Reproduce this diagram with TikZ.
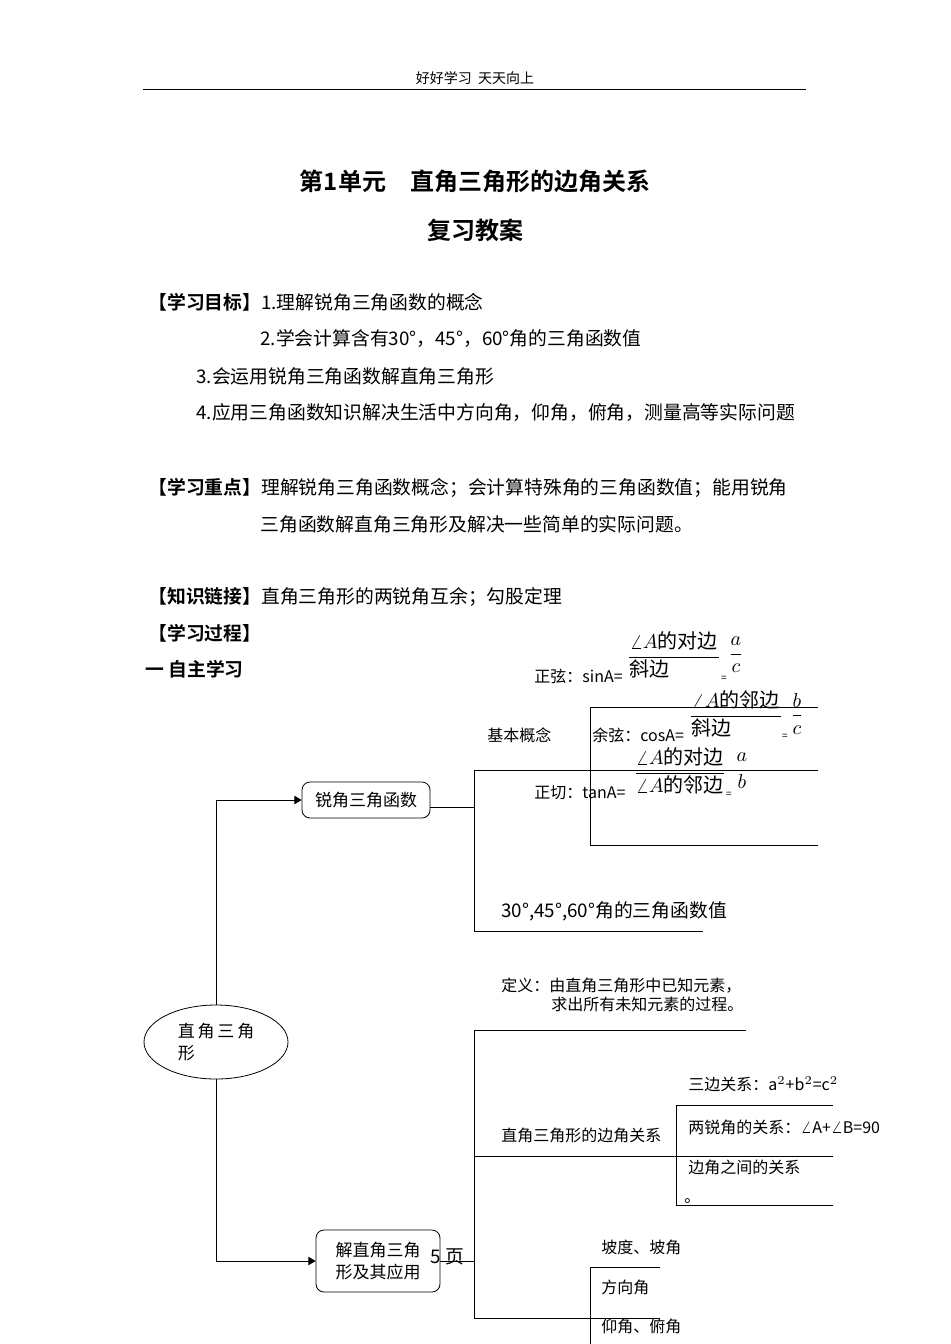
\documentclass[tikz,border=0pt]{standalone}
\usepackage{amsmath}
\usepackage{fontspec}
\setmainfont{Noto Sans CJK SC}[BoldFont={Noto Sans CJK SC Bold}]
\usepackage{tikz}
\usetikzlibrary{arrows.meta,
                positioning,
                shapes.geometric}
\tikzset{
        txt/.style={anchor=west, inner sep=0pt, font=\fontsize{9.4}{10}\selectfont},
        sml/.style={anchor=west, inner sep=0pt, font=\fontsize{8}{10}\selectfont},
        head/.style={inner sep=0pt, font=\fontsize{12}{14}\selectfont\bfseries},
        frm/.style={inner sep=0pt, font=\fontsize{10}{12}\selectfont},
        box/.style={draw, rounded corners=4pt, align=center, font=\fontsize{8.5}{11}\selectfont},
        myarrow/.style={-Triangle, line width=0.4pt},
        br/.style={line width=0.5pt},
}
\begin{document}
\begin{tikzpicture}[x=0.5pt, y=-0.5pt]
    \useasboundingbox (0,0) rectangle (950,1344);

    % header
    \node[inner sep=0pt, font=\fontsize{7}{8}\selectfont] (hdr) at (475,78) {好好学习\ \ 天天向上};
    \draw (143,89) -- (806,89);
    \node[head] (title1) at (475,181) {第1单元\quad 直角三角形的边角关系};
    \node[head] (title2) at (475,230) {复习教案};

    % goals
    \node[txt] (goal1) at (148,302) {\textbf{【学习目标】}1.理解锐角三角函数的概念};
    \node[txt] (goal2) at (260,339) {2.学会计算含有30°，45°，60°角的三角函数值};
    \node[txt] (goal3) at (196,376) {3.会运用锐角三角函数解直角三角形};
    \node[txt] (goal4) at (196,413) {4.应用三角函数知识解决生活中方向角，仰角，俯角，测量高等实际问题};
    \node[txt] (key1) at (148,488) {\textbf{【学习重点】}理解锐角三角函数概念；会计算特殊角的三角函数值；能用锐角};
    \node[txt] (key2) at (260,524) {三角函数解直角三角形及解决一些简单的实际问题。};
    \node[txt] (link) at (148,597) {\textbf{【知识链接】}直角三角形的两锐角互余；勾股定理};
    \node[txt] (proc) at (148,633) {\textbf{【学习过程】}};
    \node[txt] (self) at (145,669) {\textbf{一\ 自主学习}};

    % main nodes
    \node[draw, ellipse, minimum width=72pt, minimum height=37pt, font=\fontsize{8.5}{11}\selectfont,
          align=left] (tri) at (216,1042) {直\,角\,三\,角\\形};
    \node[box, minimum width=64pt, minimum height=18pt] (func) at (366,800) {锐角三角函数};
    \node[box, minimum width=62pt, minimum height=31pt] (solve) at (378,1261) {解直角三角\\形及其应用};

    \draw[myarrow] (tri.north) |- (func.west);
    \draw[myarrow] (tri.south) |- (solve.west);

    % upper bracket
    \coordinate (u0) at (474,807);
    \draw[br] (func.east |- u0) -- (u0);
    \draw[br] (474,770) -- (474,931) -- (703,931);
    \draw[br] (474,770) -- (818,770);
    \draw[br] (818,707) -- (590,707) -- (590,845) -- (818,845);
    \node[sml] (basic) at (487,735) {基本概念};
    \node[sml] (sin) at (534,676) {正弦：sinA=};
    \node[sml] (cos) at (592,735) {余弦：cosA=};
    \node[sml] (tan) at (534,793) {正切：tanA=};
    \node[frm] (sinf) at (674,655) {$\dfrac{\angle A\text{的对边}}{\text{斜边}\hspace{2.5em}}$};
    \node[frm] (sinv) at (736,655) {$\dfrac{a}{c}$};
    \node[frm] (cosf) at (736,714) {$\dfrac{\angle A\text{的邻边}}{\text{斜边}\hspace{2.5em}}$};
    \node[frm] (cosv) at (797,714) {$\dfrac{b}{c}$};
    \node[frm] (tanf) at (680,771) {$\dfrac{\angle A\text{的对边}}{\angle A\text{的邻边}}$};
    \node[frm] (tanv) at (742,771) {$\dfrac{a}{b}$};
    \node[inner sep=0pt, font=\tiny] (eq1) at (724,679) {=};
    \node[inner sep=0pt, font=\tiny] (eq2) at (785,737) {=};
    \node[inner sep=0pt, font=\tiny] (eq3) at (729,795) {=};
    \node[txt] (special) at (501,911) {30°,45°,60°角的三角函数值};

    % lower bracket
    \coordinate (l0) at (474,1261);
    \draw[br] (solve.east |- l0) -- (l0);
    \node[txt] (page) at (430,1257) {5 页};
    \draw[br] (746,1030) -- (474,1030) -- (474,1318) -- (660,1318);
    \draw[br] (474,1156) -- (833,1156);
    \draw[br] (833,1105) -- (676,1105) -- (676,1205) -- (833,1205);
    \draw[br] (660,1267) -- (590,1267) -- (590,1344);
    \node[sml] (def1) at (501,986) {定义：由直角三角形中已知元素，};
    \node[sml] (def2) at (551,1004) {求出所有未知元素的过程。};
    \node[sml] (rel) at (501,1135) {直角三角形的边角关系};
    \node[sml] (side3) at (688,1084) {三边关系：a$^2$+b$^2$=c$^2$};
    \node[sml] (acute) at (688,1127) {两锐角的关系：$\angle$A+$\angle$B=90};
    \node[sml] (sa) at (688,1167) {边角之间的关系};
    \node[sml] (dot) at (684,1201) {。};
    \node[sml] (slope) at (601,1247) {坡度、坡角};
    \node[sml] (dir) at (601,1287) {方向角};
    \node[sml] (elev) at (601,1326) {仰角、俯角};
\end{tikzpicture}
\end{document}
